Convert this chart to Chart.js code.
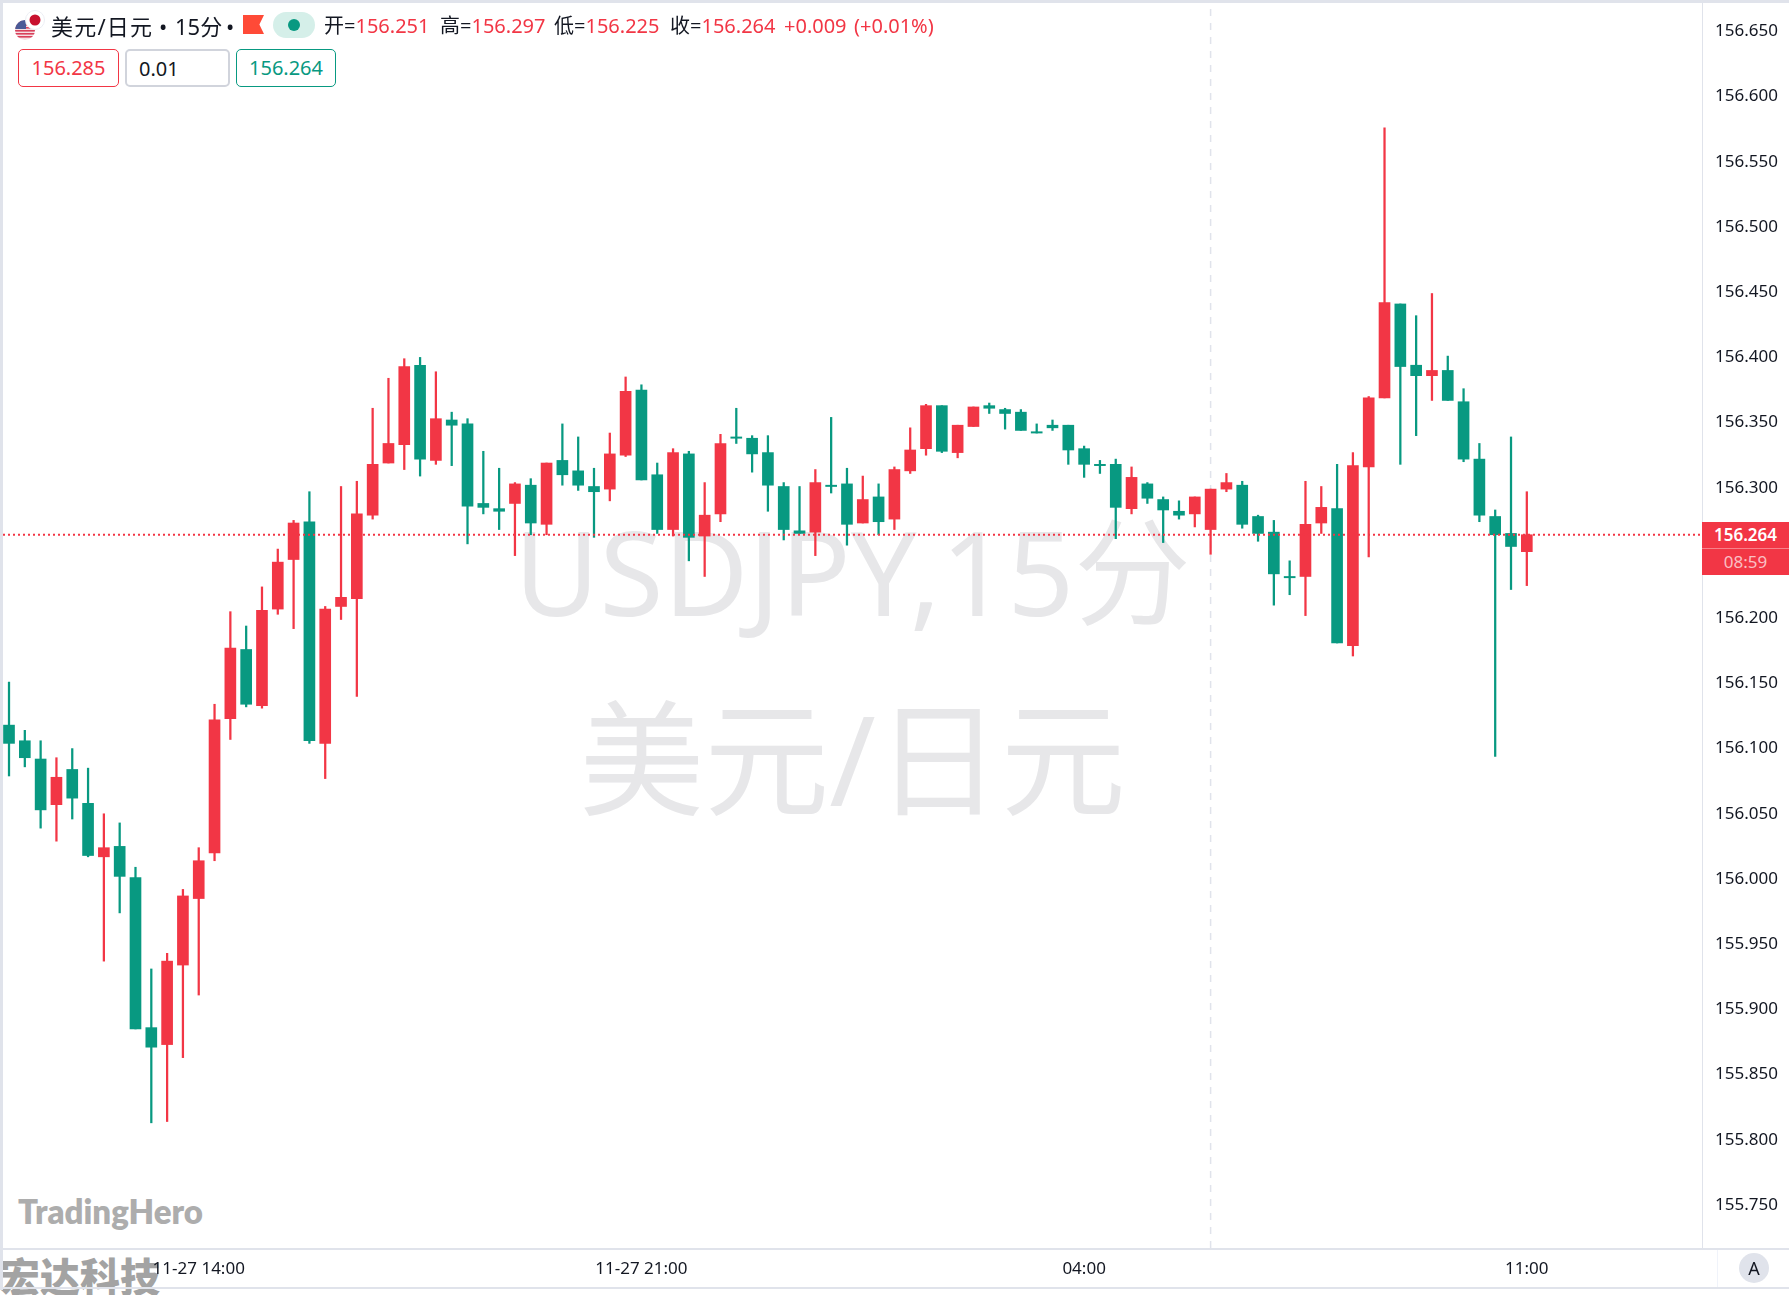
<!DOCTYPE html>
<html lang="zh">
<head>
<meta charset="utf-8">
<title>USDJPY 15分</title>
<script src="https://cdn.jsdelivr.net/npm/chart.js@4"></script>
<style>
    html, body { margin: 0; padding: 0; background: #fff; }
    body { width: 1789px; height: 1295px; position: relative; overflow: hidden; font-family: "Noto Sans", "Noto Sans CJK SC", sans-serif; color: #131722; }
    .abs { position: absolute; white-space: nowrap; }
    canvas { position: absolute; left: 0; top: 0; z-index: 2; }
    .under { z-index: 1; }
    .over { z-index: 3; }
    .wm { color: #e7e7e9; line-height: 140px; width: 1699px; left: 3px; text-align: center; font-family: "Noto Sans", "Noto Sans CJK SC", sans-serif; }
    .head { font-size: 20px; line-height: 26px; top: 13px; }
    .title { font-size: 22px; }
    .red { color: #f23645; }
    .box { box-sizing: border-box; height: 38px; top: 49px; border-radius: 5px; border: 1.5px solid; font-size: 20px; line-height: 36px; background: #fff; }
    .rule { background: #e0e3eb; }
</style>
</head>
<body>
    <div class="abs under wm" style="top:501px;font-size:116.5px">USDJPY,15分</div>
    <div class="abs under wm" style="top:688px;font-size:125px">美元/日元</div>
    <div class="abs under" style="left:18px;top:1191px;font:800 33px Lato,sans-serif;color:#adadad">TradingHero</div>
    <div class="abs under" style="left:0;top:1252px;font:900 40px 'Noto Sans CJK SC',sans-serif;line-height:46px;color:#a3a3a3">宏达科技</div>

    <canvas id="chart" width="1789" height="1295"></canvas>

    <!-- panel borders -->
    <div class="abs over rule" style="left:0;top:0;width:1789px;height:3px"></div>
    <div class="abs over rule" style="left:0;top:0;width:3px;height:1290px"></div>
    <div class="abs over rule" style="left:1702px;top:3px;width:1px;height:1245px"></div>
    <div class="abs over rule" style="left:0;top:1248px;width:1789px;height:2px"></div>
    <div class="abs over rule" style="left:0;top:1287px;width:1789px;height:2px"></div>
    <div class="abs over" style="left:1717px;top:1250px;width:1px;height:37px;background:#f0f3fa"></div>

    <!-- legend row -->
    <svg class="abs over" style="left:14px;top:10px" width="32" height="34" viewBox="0 0 32 34">
        <circle cx="11" cy="20" r="10" fill="#fff"/>
        <clipPath id="us"><circle cx="11" cy="20" r="10"/></clipPath>
        <g clip-path="url(#us)">
            <rect x="0" y="10" width="22" height="20" fill="#f5dfe3"/>
            <rect x="0" y="11" width="22" height="1.6" fill="#d9405a"/>
            <rect x="0" y="14" width="22" height="1.6" fill="#d9405a"/>
            <rect x="0" y="17" width="22" height="1.6" fill="#d9405a"/>
            <rect x="0" y="20" width="22" height="1.6" fill="#d9405a"/>
            <rect x="0" y="23" width="22" height="1.6" fill="#d9405a"/>
            <rect x="0" y="26" width="22" height="1.6" fill="#d9405a"/>
            <rect x="0" y="10" width="12" height="9" fill="#4a5a96"/>
        </g>
        <circle cx="21" cy="10" r="9.5" fill="#fff" stroke="#eceef4" stroke-width="1"/>
        <circle cx="21" cy="10" r="5.5" fill="#c8102e"/>
    </svg>
    <div class="abs over head title" style="left:51px;letter-spacing:1.2px">美元/日元</div>
    <div class="abs over head title" style="left:159px">•</div>
    <div class="abs over head title" style="left:175px">15分</div>
    <div class="abs over head title" style="left:226px">•</div>
    <div class="abs over" style="left:243px;top:15px;width:21px;height:19px;background:#ff4a37;clip-path:polygon(0 0,100% 0,78% 50%,100% 100%,0 100%)"></div>
    <div class="abs over" style="left:273px;top:12px;width:42px;height:26px;border-radius:13px;background:#d5efe9"></div>
    <div class="abs over" style="left:288px;top:19px;width:12px;height:12px;border-radius:6px;background:#089981"></div>
    <div class="abs over head" style="left:324px">开=<span class="red">156.251</span></div>
    <div class="abs over head" style="left:440px">高=<span class="red">156.297</span></div>
    <div class="abs over head" style="left:554px">低=<span class="red">156.225</span></div>
    <div class="abs over head" style="left:670px">收=<span class="red">156.264</span></div>
    <div class="abs over head red" style="left:784px">+0.009</div>
    <div class="abs over head red" style="left:854px">(+0.01%)</div>

    <div class="abs over box red" style="left:18px;width:101px;border-color:#f23645;text-align:center">156.285</div>
    <div class="abs over box" style="left:125px;width:105px;border-color:#d1d4dc;border-width:2px;padding-left:12px;line-height:35px">0.01</div>
    <div class="abs over box" style="left:236px;width:100px;border-color:#089981;color:#089981;text-align:center">156.264</div>

    <!-- last price tag -->
    <div class="abs over" style="left:1702px;top:522px;width:87px;height:26px;background:#f23645;color:#fff;font-size:17px;font-weight:600;line-height:26px;text-align:center">156.264</div>
    <div class="abs over" style="left:1702px;top:548px;width:87px;height:1px;background:#f8808a"></div>
    <div class="abs over" style="left:1702px;top:549px;width:87px;height:26px;background:#f23645;color:#ffffffb0;font-size:17px;line-height:25px;text-align:center">08:59</div>

    <div class="abs over" style="left:1739px;top:1253px;width:30px;height:30px;border-radius:15px;background:#e0e3eb;font-size:18px;line-height:30px;text-align:center">A</div>

<script>
'use strict';

const opens = [156.118, 156.106, 156.092, 156.057, 156.084, 156.058, 156.017, 156.025, 156.001, 155.886,
    155.873, 155.934, 155.985, 156.020, 156.123, 156.176, 156.133, 156.207, 156.245, 156.274,
    156.104, 156.209, 156.215, 156.279, 156.319, 156.333, 156.394, 156.321, 156.352, 156.349,
    156.288, 156.284, 156.288, 156.302, 156.272, 156.321, 156.313, 156.301, 156.299, 156.325,
    156.375, 156.310, 156.268, 156.326, 156.263, 156.280, 156.339, 156.338, 156.327, 156.301,
    156.267, 156.266, 156.302, 156.303, 156.273, 156.293, 156.276, 156.313, 156.330, 156.363,
    156.327, 156.347, 156.363, 156.360, 156.358, 156.343, 156.348, 156.348, 156.330, 156.318,
    156.318, 156.284, 156.303, 156.291, 156.282, 156.280, 156.268, 156.299, 156.302, 156.278,
    156.266, 156.232, 156.232, 156.273, 156.284, 156.179, 156.316, 156.369, 156.441, 156.394,
    156.386, 156.390, 156.366, 156.322, 156.278, 156.265, 156.251];

const highs = [156.151, 156.114, 156.106, 156.093, 156.100, 156.085, 156.050, 156.043, 156.009, 155.931,
    155.943, 155.992, 156.024, 156.134, 156.205, 156.194, 156.224, 156.253, 156.275, 156.297,
    156.209, 156.301, 156.305, 156.361, 156.384, 156.399, 156.400, 156.389, 156.358, 156.353,
    156.328, 156.315, 156.304, 156.307, 156.319, 156.349, 156.339, 156.315, 156.342, 156.385,
    156.379, 156.319, 156.330, 156.328, 156.304, 156.341, 156.361, 156.340, 156.340, 156.304,
    156.301, 156.314, 156.354, 156.315, 156.309, 156.303, 156.316, 156.346, 156.364, 156.363,
    156.348, 156.362, 156.365, 156.361, 156.360, 156.349, 156.352, 156.348, 156.332, 156.321,
    156.322, 156.316, 156.304, 156.293, 156.290, 156.293, 156.299, 156.311, 156.305, 156.279,
    156.275, 156.244, 156.305, 156.301, 156.318, 156.327, 156.370, 156.576, 156.441, 156.432,
    156.449, 156.401, 156.376, 156.334, 156.283, 156.339, 156.297];

const lows = [156.079, 156.086, 156.039, 156.029, 156.046, 156.017, 155.937, 155.974, 155.885, 155.813,
    155.814, 155.863, 155.911, 156.014, 156.107, 156.132, 156.131, 156.203, 156.192, 156.104,
    156.077, 156.199, 156.140, 156.276, 156.319, 156.314, 156.309, 156.318, 156.317, 156.257,
    156.280, 156.268, 156.248, 156.264, 156.264, 156.302, 156.298, 156.262, 156.290, 156.324,
    156.306, 156.265, 156.263, 156.244, 156.232, 156.274, 156.334, 156.312, 156.282, 156.260,
    156.265, 156.248, 156.296, 156.256, 156.273, 156.264, 156.268, 156.311, 156.325, 156.327,
    156.323, 156.347, 156.357, 156.345, 156.344, 156.342, 156.344, 156.318, 156.308, 156.311,
    156.261, 156.280, 156.288, 156.258, 156.276, 156.270, 156.249, 156.297, 156.269, 156.259,
    156.210, 156.218, 156.202, 156.265, 156.181, 156.171, 156.247, 156.369, 156.318, 156.340,
    156.367, 156.367, 156.320, 156.274, 156.094, 156.222, 156.225];

const closes = [156.104, 156.093, 156.053, 156.078, 156.062, 156.018, 156.024, 156.002, 155.885, 155.871,
    155.937, 155.987, 156.014, 156.122, 156.177, 156.134, 156.206, 156.243, 156.273, 156.106,
    156.207, 156.216, 156.280, 156.318, 156.334, 156.393, 156.322, 156.353, 156.348, 156.286,
    156.285, 156.282, 156.303, 156.273, 156.319, 156.310, 156.302, 156.297, 156.326, 156.374,
    156.306, 156.268, 156.327, 156.262, 156.279, 156.334, 156.338, 156.326, 156.302, 156.268,
    156.265, 156.304, 156.301, 156.272, 156.291, 156.274, 156.314, 156.329, 156.363, 156.328,
    156.348, 156.362, 156.361, 156.357, 156.344, 156.342, 156.346, 156.329, 156.318, 156.317,
    156.285, 156.308, 156.292, 156.283, 156.279, 156.293, 156.299, 156.304, 156.272, 156.265,
    156.234, 156.231, 156.272, 156.285, 156.181, 156.317, 156.369, 156.442, 156.393, 156.386,
    156.390, 156.367, 156.322, 156.279, 156.264, 156.255, 156.264];

const priceTicks = [155.75, 155.80, 155.85, 155.90, 155.95, 156.00, 156.05, 156.10, 156.15, 156.20,
    156.25, 156.30, 156.35, 156.40, 156.45, 156.50, 156.55, 156.60, 156.65];
const timeTickIndexes = [12, 40, 68, 96];
const timeTickLabels = ['11-27 14:00', '11-27 21:00', '04:00', '11:00'];

const lastPrice = 156.264;
const sessionBreak = 76;

const upColor = '#f23645';
const downColor = '#089981';
const tickFont = { family: '"Noto Sans", sans-serif', size: 17 };

const candleColors = closes.map((c, i) => (c >= opens[i] ? upColor : downColor));

const xMin = -0.38;
const xMax = 107.08;
const yMin = 155.717;
const yMax = 156.6718;

// axis label overhang must not eat into the plot area
function dropAxisPadding(scale) {
    scale.paddingTop = 0;
    scale.paddingBottom = 0;
    scale.paddingLeft = 0;
    scale.paddingRight = 0;
}

new Chart(document.getElementById('chart'), {
    type: 'bar',
    data: {
        datasets: [
            {
                type: 'line',
                order: 0,
                data: [{ x: xMin, y: lastPrice }, { x: xMax, y: lastPrice }],
                borderColor: upColor,
                borderWidth: 2,
                borderDash: [2, 3],
                pointRadius: 0
            },
            {
                order: 1,
                grouped: false,
                barThickness: 11,
                borderWidth: 0,
                data: opens.map((o, i) => ({ x: i, y: [o, closes[i]] })),
                backgroundColor: candleColors
            },
            {
                order: 2,
                grouped: false,
                barThickness: 1.6,
                borderWidth: 0,
                data: lows.map((l, i) => ({ x: i, y: [l, highs[i]] })),
                backgroundColor: candleColors
            },
            {
                type: 'line',
                order: 3,
                data: [{ x: sessionBreak, y: yMin }, { x: sessionBreak, y: yMax }],
                borderColor: '#e0e3eb',
                borderWidth: 1.5,
                borderDash: [7, 7],
                pointRadius: 0
            }
        ]
    },
    options: {
        responsive: false,
        animation: false,
        layout: { padding: { left: 3, top: 3, right: 0, bottom: 0 } },
        plugins: { legend: { display: false }, tooltip: { enabled: false } },
        scales: {
            x: {
                type: 'linear',
                offset: false,
                min: xMin,
                max: xMax,
                grid: { display: false, drawTicks: false },
                border: { display: false },
                afterBuildTicks: scale => {
                    scale.ticks = timeTickIndexes.map(v => ({ value: v }));
                },
                afterFit: scale => {
                    scale.height = 47;
                    dropAxisPadding(scale);
                },
                ticks: {
                    autoSkip: false,
                    maxRotation: 0,
                    padding: 11,
                    color: '#131722',
                    font: tickFont,
                    callback: v => timeTickLabels[timeTickIndexes.indexOf(v)]
                }
            },
            y: {
                position: 'right',
                min: yMin,
                max: yMax,
                grid: { display: false, drawTicks: false },
                border: { display: false },
                afterBuildTicks: scale => {
                    scale.ticks = priceTicks.map(v => ({ value: v }));
                },
                afterFit: scale => {
                    scale.width = 87;
                    dropAxisPadding(scale);
                },
                ticks: {
                    padding: 13,
                    color: '#131722',
                    font: tickFont,
                    callback: v => v.toFixed(3)
                }
            }
        }
    }
});
</script>
</body>
</html>
